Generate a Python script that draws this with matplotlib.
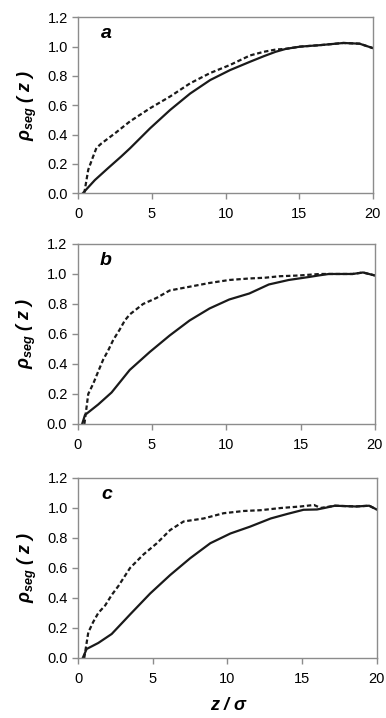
import numpy as np
import matplotlib.pyplot as plt

plt.rcParams['font.family'] = ['Liberation Sans', 'DejaVu Sans']
plt.rcParams['mathtext.fontset'] = 'custom'
plt.rcParams['mathtext.it'] = 'Liberation Sans:italic:bold'
plt.rcParams['mathtext.rm'] = 'Liberation Sans:bold'
plt.rcParams['mathtext.bf'] = 'Liberation Sans:bold'

# panel a
za_dash = [0.4, 0.67, 1.0, 1.23, 1.57, 2.5, 3.5, 4.87, 6.23, 7.59, 8.95, 10.3, 11.66,
           12.6, 13.4, 14.1, 15.06, 16.4, 18.0, 19.1, 20.0]
rho_a_dash = [0.0, 0.16, 0.25, 0.31, 0.34, 0.41, 0.49, 0.58, 0.66, 0.75, 0.82, 0.875, 0.94,
              0.965, 0.98, 0.985, 1.0, 1.01, 1.025, 1.02, 0.99]
za_solid = [0.3, 1.12, 2.0, 2.9, 3.51, 4.87, 6.23, 7.59, 8.95, 10.3, 11.66, 12.6,
            13.4, 14.1, 15.06, 16.4, 18.0, 19.1, 20.0]
rho_a_solid = [0.0, 0.09, 0.17, 0.25, 0.307, 0.443, 0.568, 0.68, 0.772, 0.84, 0.897, 0.935,
               0.965, 0.985, 1.0, 1.01, 1.025, 1.02, 0.99]

# panel b
zb_dash = [0.45, 0.71, 1.05, 1.38, 1.72, 2.05, 2.39, 2.83, 3.17, 3.5, 4.4, 5.3, 6.19,
           7.53, 8.87, 10.2, 11.55, 12.6, 13.6, 14.9, 16.3, 16.9, 18.5, 19.2, 20.0]
rho_b_dash = [0.0, 0.2, 0.27, 0.35, 0.43, 0.49, 0.56, 0.63, 0.69, 0.73, 0.80, 0.84, 0.89,
              0.915, 0.94, 0.96, 0.97, 0.975, 0.985, 0.99, 1.0, 1.0, 1.0, 1.01, 0.99]
zb_solid = [0.3, 0.49, 1.38, 2.28, 3.5, 4.85, 6.19, 7.53, 8.87, 10.2, 11.55, 12.86,
            14.2, 15.57, 16.2, 16.9, 18.5, 19.2, 20.0]
rho_b_solid = [0.0, 0.06, 0.13, 0.21, 0.36, 0.48, 0.59, 0.69, 0.77, 0.83, 0.87, 0.93,
               0.96, 0.98, 0.99, 1.0, 1.0, 1.01, 0.99]

# panel c
zc_dash = [0.4, 0.67, 1.0, 1.34, 1.8, 2.24, 2.69, 3.47, 4.37, 5.27, 6.16, 7.06, 8.4,
           9.74, 11.1, 12.2, 13.6, 14.9, 15.8, 16.24, 17.2, 18.6, 19.5, 20.0]
rho_c_dash = [0.0, 0.17, 0.24, 0.30, 0.35, 0.42, 0.48, 0.60, 0.69, 0.765, 0.853, 0.91, 0.93,
              0.965, 0.98, 0.985, 1.0, 1.01, 1.02, 1.0, 1.015, 1.01, 1.015, 0.99]
zc_solid = [0.3, 0.56, 1.34, 2.24, 3.14, 3.47, 4.82, 6.16, 7.5, 8.85, 10.2, 11.5, 12.9,
            14.0, 15.1, 16.0, 16.5, 17.2, 18.6, 19.5, 20.0]
rho_c_solid = [0.0, 0.06, 0.10, 0.16, 0.255, 0.29, 0.43, 0.553, 0.665, 0.765, 0.83, 0.875, 0.93,
               0.96, 0.988, 0.99, 1.0, 1.015, 1.01, 1.015, 0.99]

panels = [
    ('a', za_dash, rho_a_dash, za_solid, rho_a_solid, [0.203, 0.7308, 0.763, 0.2451]),
    ('b', zb_dash, rho_b_dash, zb_solid, rho_b_solid, [0.2013, 0.4095, 0.770, 0.2507]),
    ('c', zc_dash, rho_c_dash, zc_solid, rho_c_solid, [0.2028, 0.0836, 0.773, 0.2507]),
]

fig = plt.figure(figsize=(3.86, 7.18), dpi=100)
line_col = '#1a1a1a'
frame_col = '#8c8c8c'

for label, xd, yd, xs, ys, rect in panels:
    ax = fig.add_axes(rect)
    ax.plot(xd, yd, color=line_col, lw=1.6, dashes=(2.0, 1.2))
    ax.plot(xs, ys, color=line_col, lw=1.6)
    ax.set_xlim(0, 20)
    ax.set_ylim(0, 1.2)
    ax.set_xticks([0, 5, 10, 15, 20])
    ax.set_yticks(np.arange(0, 1.21, 0.2))
    ax.set_yticklabels(['%.1f' % v for v in np.arange(0, 1.21, 0.2)])
    for sp in ax.spines.values():
        sp.set_color(frame_col)
        sp.set_linewidth(1.0)
    ax.tick_params(direction='out', length=4, width=1.0, color=frame_col,
                   labelsize=10.5, labelcolor='black')
    ax.tick_params(axis='x', pad=6)
    ax.text(1.9, 1.09, label, fontsize=14, fontweight='bold', style='italic',
            ha='center', va='center')
    ax.set_ylabel(r'$\rho_{seg}$ ( z )', fontsize=13, fontweight='bold',
                  style='italic', labelpad=6)

fig.text(0.59, 0.018, 'z / σ', fontsize=13, fontweight='bold', style='italic',
         ha='center', va='center')

fig.savefig('out.png', dpi=100)
